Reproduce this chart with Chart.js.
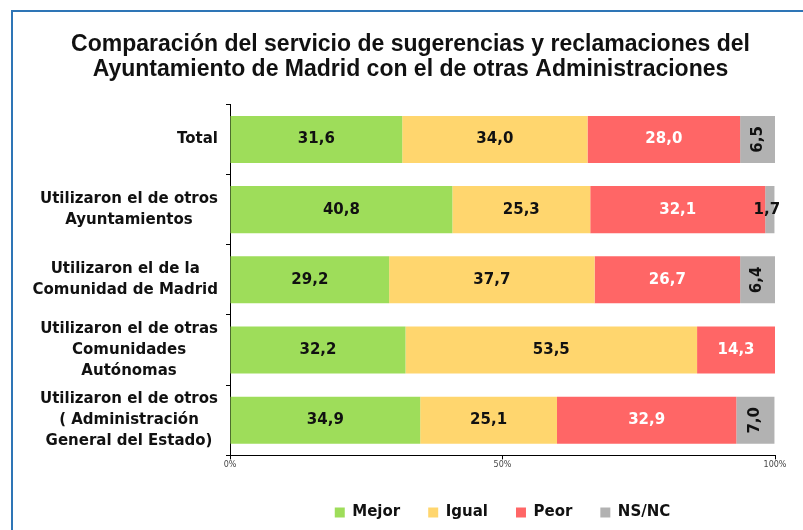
<!DOCTYPE html>
<html>
<head>
<meta charset="utf-8">
<script src="https://cdn.jsdelivr.net/npm/chart.js@4.4.1/dist/chart.umd.min.js"></script>
<style>
    html, body { margin: 0; background: #fff; overflow: hidden; }
</style>
</head>
<body>
<canvas id="chart" width="803" height="530"></canvas>
<script>
// Categories (multi-line labels) and series values, in %
const categories = [
    ["Total"],
    ["Utilizaron el de otros", "Ayuntamientos"],
    ["Utilizaron el de la", "Comunidad de Madrid"],
    ["Utilizaron el de otras", "Comunidades", "Autónomas"],
    ["Utilizaron el de otros", "( Administración", "General del Estado)"]
];
const mejor = [31.6, 40.8, 29.2, 32.2, 34.9];
const igual = [34.0, 25.3, 37.7, 53.5, 25.1];
const peor  = [28.0, 32.1, 26.7, 14.3, 32.9];
const nsnc  = [6.5, 1.7, 6.4, null, 7.0];
const xTicks = [0, 50, 100];

const labelFont = "'DejaVu Sans', Verdana, sans-serif";

// blue frame along the top and left edges
const frame = {
    id: 'frame',
    beforeDraw(chart) {
        const ctx = chart.ctx;
        ctx.save();
        ctx.fillStyle = '#2E75B6';
        ctx.fillRect(11, 10, chart.width - 11, 2);
        ctx.fillRect(11, 10, 2, chart.height - 10);
        ctx.restore();
    }
};

// draws the value inside each bar segment
const barValues = {
    id: 'barValues',
    afterDatasetsDraw(chart) {
        const ctx = chart.ctx;
        ctx.save();
        ctx.font = 'bold 15px ' + labelFont;
        ctx.textBaseline = 'middle';
        ctx.textAlign = 'center';
        chart.data.datasets.forEach((ds, di) => {
            const meta = chart.getDatasetMeta(di);
            meta.data.forEach((bar, i) => {
                const v = ds.data[i];
                if (v == null) return;
                const txt = v.toFixed(1).replace('.', ',');
                const cx = (bar.x + bar.base) / 2;
                ctx.fillStyle = di === 2 ? '#ffffff' : '#111111';
                if (di === 3 && v > 3) {
                    ctx.save();
                    ctx.translate(cx, bar.y);
                    ctx.rotate(-Math.PI / 2);
                    ctx.fillText(txt, 0, 0);
                    ctx.restore();
                } else {
                    ctx.fillText(txt, di === 3 ? cx - 3 : cx, bar.y);
                }
            });
        });
        ctx.restore();
    }
};

// category labels: each block centred on itself, block right-aligned to the axis
const catLabels = {
    id: 'catLabels',
    afterDraw(chart) {
        const ctx = chart.ctx;
        const y = chart.scales.y;
        const right = y.right - 12;
        const lh = 21;
        ctx.save();
        ctx.font = 'bold 15px ' + labelFont;
        ctx.fillStyle = '#111111';
        ctx.textAlign = 'center';
        ctx.textBaseline = 'middle';
        categories.forEach((lines, i) => {
            const w = Math.max(...lines.map(l => ctx.measureText(l).width));
            const cx = right - w / 2;
            const cy = y.getPixelForTick(i);
            lines.forEach((l, k) => {
                ctx.fillText(l, cx, cy + (k - (lines.length - 1) / 2) * lh);
            });
        });
        ctx.restore();
    }
};

// nudge the title a little to the right, as in the original
const shiftTitle = {
    id: 'shiftTitle',
    afterLayout(chart) {
        chart.titleBlock.left += 23;
        chart.titleBlock.right += 23;
    }
};

new Chart(document.getElementById('chart'), {
    type: 'bar',
    data: {
        labels: categories,
        datasets: [
            { label: 'Mejor', data: mejor, backgroundColor: '#9EDD5A' },
            { label: 'Igual', data: igual, backgroundColor: '#FFD66E' },
            { label: 'Peor', data: peor, backgroundColor: '#FF6666' },
            { label: 'NS/NC', data: nsnc, backgroundColor: '#B2B2B2' }
        ]
    },
    options: {
        indexAxis: 'y',
        responsive: false,
        animation: false,
        layout: {
            padding: { left: 0, right: 28, top: 0, bottom: 0 }
        },
        datasets: {
            bar: { barPercentage: 0.67, categoryPercentage: 1 }
        },
        plugins: {
            title: {
                display: true,
                text: ['Comparación del servicio de sugerencias y reclamaciones del',
                       'Ayuntamiento de Madrid con el de otras Administraciones'],
                color: '#111111',
                font: { family: "'Liberation Sans', Arial, sans-serif", size: 23, weight: 'bold', lineHeight: 1.05 },
                padding: { top: 33, bottom: 23 }
            },
            legend: {
                position: 'bottom',
                fullSize: false,
                labels: {
                    boxWidth: 10,
                    boxHeight: 10,
                    padding: 28,
                    color: '#111111',
                    font: { family: labelFont, size: 15, weight: 'bold' }
                }
            },
            tooltip: { enabled: false }
        },
        scales: {
            x: {
                stacked: true,
                min: 0,
                max: 100,
                afterBuildTicks: (scale) => {
                    scale.ticks = xTicks.map(v => ({ value: v }));
                },
                afterFit: (scale) => { scale.height += 6; },
                grid: { drawOnChartArea: false, drawTicks: true, tickLength: 4, color: '#000' },
                border: { color: '#000', width: 1 },
                ticks: {
                    padding: 1,
                    color: '#444',
                    font: { family: labelFont, size: 8 },
                    callback: v => v + '%'
                }
            },
            y: {
                stacked: true,
                afterFit: (scale) => { scale.width = 230; },
                grid: { drawOnChartArea: false, drawTicks: true, tickLength: 4, color: '#000', offset: true },
                border: { color: '#000', width: 1 },
                ticks: { display: false }
            }
        }
    },
    plugins: [frame, barValues, catLabels, shiftTitle]
});
</script>
</body>
</html>
